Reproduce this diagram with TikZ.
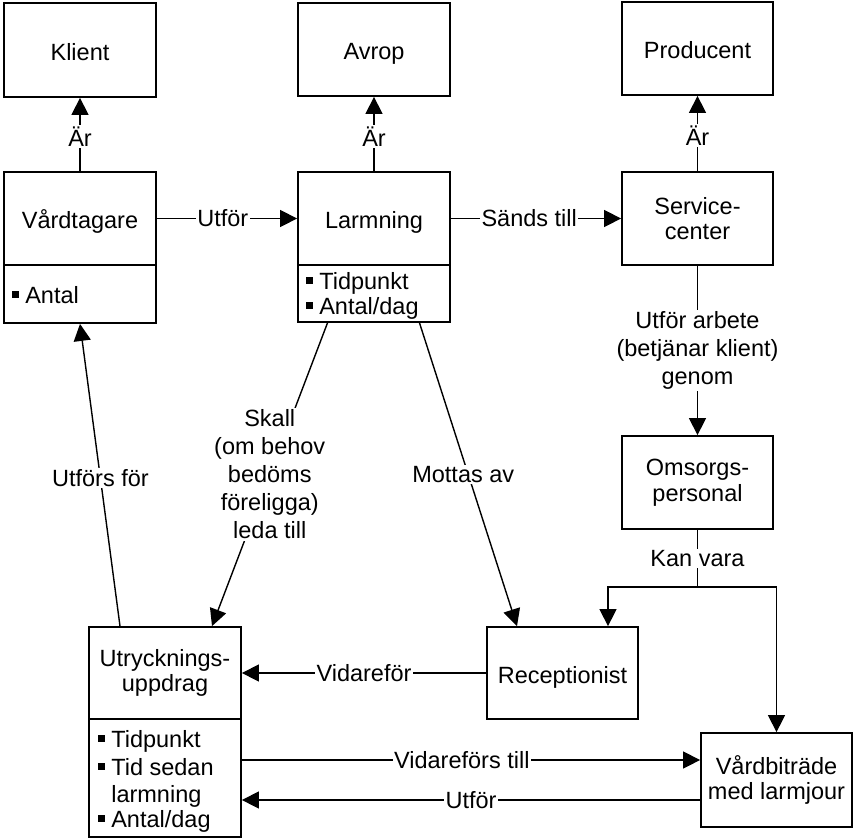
\documentclass[tikz,border=0pt]{standalone}
\usepackage{fontspec}
\setmainfont{Liberation Sans}
\usetikzlibrary{arrows.meta}

\newcommand\boxfont{\fontsize{23.5}{25.5}\selectfont}
\newcommand\lblfont{\fontsize{23.5}{28}\selectfont}
\newcommand\attrbullet{\rule[5pt]{7pt}{7pt}\hspace{6pt}}

\begin{document}
\begin{tikzpicture}[x=1pt,y=-1pt,
  box/.style={draw, line width=1.8pt, inner sep=0pt, align=center, font=\boxfont},
  oneline/.style={text height=22pt, text depth=2pt},
  attr/.style={inner sep=0pt, anchor=base west, font=\boxfont},
  conn/.style={line width=1.4pt},
  arr/.style={conn, -{Triangle[length=17pt,width=17pt]}},
  lbl/.style={fill=white, inner sep=1.5pt, align=center, font=\lblfont}]

\useasboundingbox (0,0) rectangle (853,838);

% entity boxes
\node[box, oneline, minimum width=152pt, minimum height=94pt] (klient)    at (80,50)      {Klient};
\node[box, oneline, minimum width=152pt, minimum height=93pt] (avrop)     at (374,49.5)   {Avrop};
\node[box, oneline, minimum width=151pt, minimum height=93pt] (producent) at (697.5,48.5) {Producent};
\node[box, oneline, minimum width=152pt, minimum height=93pt] (vard)      at (80,218.5)   {Vårdtagare};
\node[box, minimum width=152pt, minimum height=58pt] (vardattr)  at (80,294)     {};
\node[box, oneline, minimum width=152pt, minimum height=93pt] (larm)      at (374,218.5)  {Larmning};
\node[box, minimum width=152pt, minimum height=57pt] (larmattr)  at (374,293.5)  {};
\node[box, minimum width=151pt, minimum height=93pt] (service)   at (697.5,218.5) {Service-\\center};
\node[box, minimum width=151pt, minimum height=93pt] (omsorg)    at (697.5,482.5) {Omsorgs-\\personal};
\node[box, oneline, minimum width=151pt, minimum height=92pt] (recep)     at (562.5,673)  {Receptionist};
\node[box, minimum width=152pt, minimum height=92pt] (utr)       at (165,673)    {Utrycknings-\\uppdrag};
\node[box, minimum width=152pt, minimum height=118pt] (utrattr)  at (165,778)    {};
\node[box, minimum width=151pt, minimum height=94pt] (vardb)     at (776.5,780)  {Vårdbiträde\\med larmjour};

% attribute lists
\node[attr] (va1) at ([shift={(9pt,-39pt)}]vardattr.north west) {\attrbullet Antal};
\node[attr] (la1) at ([shift={(9pt,-25pt)}]larmattr.north west) {\attrbullet Tidpunkt};
\node[attr] (la2) at ([shift={(9pt,-50pt)}]larmattr.north west) {\attrbullet Antal/dag};
\node[attr] (ua1) at ([shift={(10pt,-29pt)}]utrattr.north west) {\attrbullet Tidpunkt};
\node[attr] (ua2) at ([shift={(10pt,-57pt)}]utrattr.north west) {\attrbullet Tid sedan};
\node[attr] (ua3) at ([shift={(23pt,-84pt)}]utrattr.north west) {larmning};
\node[attr] (ua4) at ([shift={(10pt,-109pt)}]utrattr.north west) {\attrbullet Antal/dag};

% relations
\draw[arr] (vard) -- node[lbl, pos=0.47] {Är} (klient);
\draw[arr] (larm) -- node[lbl, pos=0.47] {Är} (avrop);
\draw[arr] (service) -- node[lbl, pos=0.47] {Är} (producent);
\draw[arr] (vard) -- node[lbl, pos=0.47] {Utför} (larm);
\draw[arr] (larm) -- node[lbl, pos=0.46] {Sänds till} (service);
\draw[arr] (service) -- node[lbl] {Utför arbete\\(betjänar klient)\\genom} (omsorg);

\coordinate (kv) at (697.5,587);
\draw[conn] (omsorg) -- node[lbl] {Kan vara} (kv);
\draw[arr] (kv) -| ([xshift=45.5pt]recep.north);
\draw[arr] (kv) -| (vardb.north);

\draw[arr] ([xshift=-46.5pt]larmattr.south) -- node[lbl] {Skall\\(om behov\\bedöms\\föreligga)\\leda till} ([xshift=47pt]utr.north);
\draw[arr] ([xshift=45.5pt]larmattr.south) -- node[lbl, xshift=-5pt] {Mottas av} ([xshift=-45.5pt]recep.north);
\draw[arr] ([xshift=-45pt]utr.north) -- node[lbl, pos=0.49] {Utförs för} (vardattr.south);
\draw[arr] (recep) -- node[lbl] {Vidareför} (utr);
\draw[arr] ([yshift=18pt]utrattr.east) -- node[lbl, pos=0.48] {Vidareförs till} ([yshift=18pt]utrattr.east -| vardb.west);
\draw[arr] ([yshift=-20pt]vardb.west) -- node[lbl] {Utför} ([yshift=-20pt]vardb.west -| utrattr.east);

\end{tikzpicture}
\end{document}
